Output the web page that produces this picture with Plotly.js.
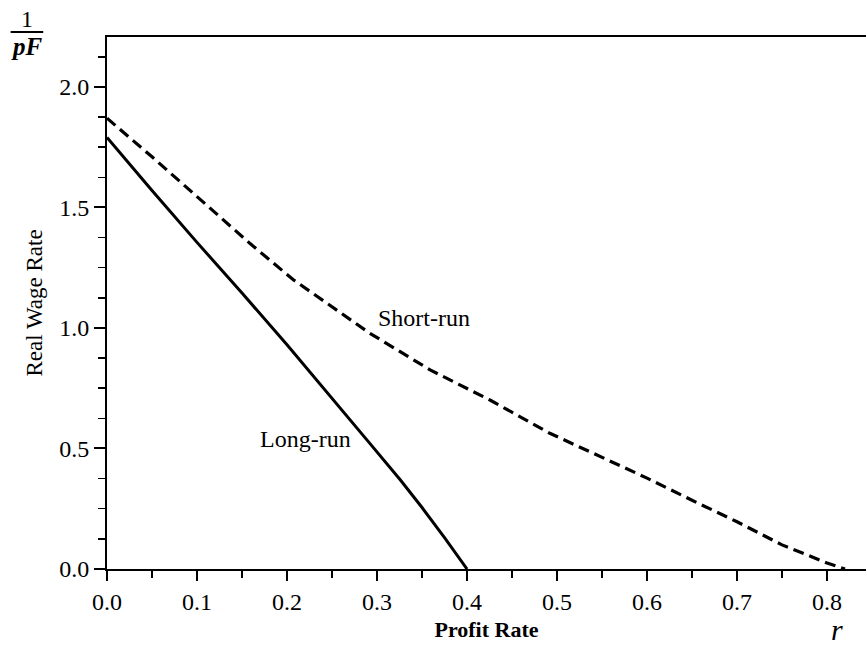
<!DOCTYPE html>
<html>
<head>
<meta charset="utf-8">
<script src="https://cdn.plot.ly/plotly-3.0.1.min.js"></script>
<style>html,body{margin:0;padding:0;background:#fff;}#chart{width:866px;height:648px;}</style>
</head>
<body>
<div id="chart"></div>
<script>
// Long-run wage-profit frontier (solid)
const longRunX = [0, 0.05, 0.10, 0.15, 0.20, 0.25, 0.292, 0.326, 0.35, 0.375, 0.40];
const longRunY = [1.79, 1.57, 1.355, 1.145, 0.93, 0.71, 0.521, 0.369, 0.255, 0.13, 0.0];
// Short-run wage-profit frontier (dashed)
const shortRunX = [0, 0.05, 0.10, 0.159, 0.207, 0.25, 0.292, 0.359, 0.426, 0.492, 0.55, 0.60, 0.65, 0.70, 0.75, 0.80, 0.82];
const shortRunY = [1.87, 1.71, 1.545, 1.35, 1.20, 1.088, 0.978, 0.826, 0.70, 0.563, 0.463, 0.377, 0.285, 0.196, 0.10, 0.025, 0.0];
const xTicks = [0, 0.1, 0.2, 0.3, 0.4, 0.5, 0.6, 0.7, 0.8];
const yTicks = [0, 0.5, 1.0, 1.5, 2.0];
const curveLabels = ["Short-run", "Long-run"];
const curveLabelX = [0.352, 0.221];
const curveLabelY = [1.04, 0.539];

const FONT = "Liberation Serif, Times New Roman, serif";

const traces = [
  {x: longRunX, y: longRunY, mode: "lines", name: "Long-run",
   line: {color: "#000", width: 3}, hoverinfo: "x+y"},
  {x: shortRunX, y: shortRunY, mode: "lines", name: "Short-run",
   line: {color: "#000", width: 3.2, dash: "11px,6px"}, hoverinfo: "x+y"}
];

const annotations = curveLabels.map((t, i) => ({
  x: curveLabelX[i], y: curveLabelY[i], xref: "x", yref: "y", text: t,
  showarrow: false, font: {family: FONT, size: 24, color: "#000"}
}));
annotations.push(
  {x: -0.1054, y: 1.034, xref: "paper", yref: "paper", text: "1", showarrow: false,
   xanchor: "center", yanchor: "middle", font: {family: FONT, size: 24, color: "#000"}},
  {x: -0.1054, y: 0.983, xref: "paper", yref: "paper", text: "<i>pF</i>", showarrow: false,
   xanchor: "center", yanchor: "middle", font: {family: FONT, size: 25, color: "#000", weight: "bold"}},
  {x: 0.9618, y: -0.114, xref: "paper", yref: "paper", text: "<i>r</i>", showarrow: false,
   xanchor: "center", yanchor: "middle", font: {family: FONT, size: 30, color: "#000"}}
);

const layout = {
  width: 866, height: 648,
  margin: {l: 107, r: 0, t: 37, b: 79, pad: 0},
  paper_bgcolor: "#fff", plot_bgcolor: "#fff",
  showlegend: false,
  font: {family: FONT, size: 24, color: "#000"},
  xaxis: {
    range: [0, 0.8433], tickvals: xTicks, tickformat: ".1f",
    showgrid: false, zeroline: false,
    showline: true, linecolor: "#000", linewidth: 2, mirror: true,
    ticks: "outside", ticklen: 10, tickwidth: 2, tickcolor: "#000",
    tickfont: {family: FONT, size: 24, color: "#000"},
    minor: {dtick: 0.05, ticks: "outside", ticklen: 7, tickwidth: 1.5, tickcolor: "#000", showgrid: false},
    title: {text: "Profit Rate", standoff: 8, font: {family: FONT, size: 22, color: "#000", weight: "bold"}}
  },
  yaxis: {
    range: [0, 2.207], tickvals: yTicks, tickformat: ".1f",
    showgrid: false, zeroline: false,
    showline: true, linecolor: "#000", linewidth: 2,
    ticks: "outside", ticklen: 11, tickwidth: 2, tickcolor: "#000",
    tickfont: {family: FONT, size: 24, color: "#000"},
    minor: {dtick: 0.125, ticks: "outside", ticklen: 7, tickwidth: 1.5, tickcolor: "#000", showgrid: false},
    title: {text: "Real Wage Rate", standoff: 10, font: {family: FONT, size: 23, color: "#000"}}
  },
  shapes: [
    {type: "line", xref: "paper", yref: "paper", x0: -0.127, x1: -0.084, y0: 1.0094, y1: 1.0094,
     line: {color: "#000", width: 2}}
  ],
  annotations: annotations
};

Plotly.newPlot("chart", traces, layout, {displayModeBar: false, staticPlot: true});
</script>
</body>
</html>
